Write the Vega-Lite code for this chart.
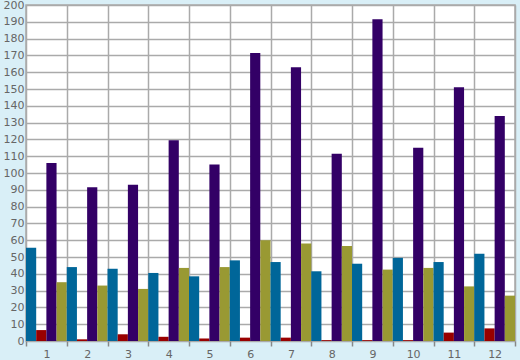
{
  "$schema": "https://vega.github.io/schema/vega-lite/v6.json",
  "autosize": "none",
  "width": 489,
  "height": 336,
  "padding": {"left": 26, "top": 5, "right": 5, "bottom": 19},
  "background": "#d9eff7",
  "config": {
    "view": {"fill": "#ffffff", "stroke": "#aaaaaa", "strokeWidth": 1.5},
    "font": "DejaVu Sans"
  },
  "data": {
    "values": [
      {"m": "1", "s": "A", "v": 55.5}, {"m": "1", "s": "B", "v": 6.5}, {"m": "1", "s": "C", "v": 106}, {"m": "1", "s": "D", "v": 35},
      {"m": "2", "s": "A", "v": 44}, {"m": "2", "s": "B", "v": 1}, {"m": "2", "s": "C", "v": 91.5}, {"m": "2", "s": "D", "v": 33},
      {"m": "3", "s": "A", "v": 43}, {"m": "3", "s": "B", "v": 4}, {"m": "3", "s": "C", "v": 93}, {"m": "3", "s": "D", "v": 31},
      {"m": "4", "s": "A", "v": 40.5}, {"m": "4", "s": "B", "v": 2.5}, {"m": "4", "s": "C", "v": 119.5}, {"m": "4", "s": "D", "v": 43.5},
      {"m": "5", "s": "A", "v": 38.5}, {"m": "5", "s": "B", "v": 1.5}, {"m": "5", "s": "C", "v": 105}, {"m": "5", "s": "D", "v": 44},
      {"m": "6", "s": "A", "v": 48}, {"m": "6", "s": "B", "v": 2}, {"m": "6", "s": "C", "v": 171.5}, {"m": "6", "s": "D", "v": 60},
      {"m": "7", "s": "A", "v": 47}, {"m": "7", "s": "B", "v": 2}, {"m": "7", "s": "C", "v": 163}, {"m": "7", "s": "D", "v": 58},
      {"m": "8", "s": "A", "v": 41.5}, {"m": "8", "s": "B", "v": 0.5}, {"m": "8", "s": "C", "v": 111.5}, {"m": "8", "s": "D", "v": 56.5},
      {"m": "9", "s": "A", "v": 46}, {"m": "9", "s": "B", "v": 0.5}, {"m": "9", "s": "C", "v": 191.5}, {"m": "9", "s": "D", "v": 42.5},
      {"m": "10", "s": "A", "v": 49.5}, {"m": "10", "s": "B", "v": 0.5}, {"m": "10", "s": "C", "v": 115}, {"m": "10", "s": "D", "v": 43.5},
      {"m": "11", "s": "A", "v": 47}, {"m": "11", "s": "B", "v": 5}, {"m": "11", "s": "C", "v": 151}, {"m": "11", "s": "D", "v": 32.5},
      {"m": "12", "s": "A", "v": 52}, {"m": "12", "s": "B", "v": 7.5}, {"m": "12", "s": "C", "v": 134}, {"m": "12", "s": "D", "v": 27}
    ]
  },
  "mark": {"type": "bar"},
  "encoding": {
    "x": {
      "field": "m", "type": "ordinal", "sort": null,
      "scale": {"paddingInner": 0, "paddingOuter": 0},
      "axis": {
        "title": null, "labelAngle": 0, "tickBand": "extent",
        "grid": true, "gridColor": "#aaaaaa", "gridWidth": 1.5, "gridOpacity": 1,
        "domain": false, "tickColor": "#888888", "tickSize": 5, "tickWidth": 1.5,
        "labelColor": "#666666", "labelFontSize": 11, "labelPadding": 2
      }
    },
    "xOffset": {"field": "s", "type": "nominal", "scale": {"paddingInner": 0, "paddingOuter": 0}},
    "y": {
      "field": "v", "type": "quantitative",
      "scale": {"domain": [0, 200], "nice": false},
      "axis": {
        "title": null, "values": [0,10,20,30,40,50,60,70,80,90,100,110,120,130,140,150,160,170,180,190,200],
        "labelOverlap": false, "labelFlush": false,
        "grid": true, "gridColor": "#aaaaaa", "gridWidth": 1.5, "gridOpacity": 1,
        "domain": false, "ticks": false, "labelPadding": 2,
        "labelColor": "#666666", "labelFontSize": 11
      }
    },
    "color": {
      "field": "s", "type": "nominal", "legend": null,
      "scale": {"domain": ["A", "B", "C", "D"], "range": ["#006699", "#990000", "#330066", "#999933"]}
    }
  }
}
